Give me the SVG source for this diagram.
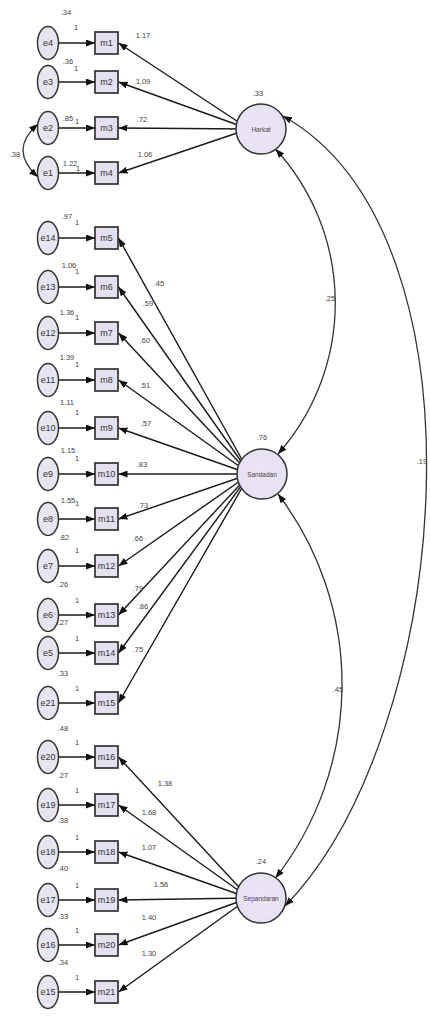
<svg xmlns="http://www.w3.org/2000/svg" width="430" height="1019" viewBox="0 0 430 1019">
<style>
.ln{stroke:#1a1a1a;stroke-width:1.4;fill:none;marker-end:url(#ah)}
.cv{stroke:#333;stroke-width:1.3;fill:none;marker-start:url(#ah);marker-end:url(#ah)}
.err{fill:#e8e5f3;stroke:#333;stroke-width:1.5}
.box{fill:#e4e0ef;stroke:#333;stroke-width:1.7}
.lat{fill:url(#lg);stroke:#333;stroke-width:1.5}
.nt{font-family:"Liberation Sans",Arial,sans-serif;font-size:9px;fill:#333;text-anchor:middle}
.lb{font-family:"Liberation Sans",Arial,sans-serif;font-size:7.5px;fill:#444;text-anchor:middle}
.lt{font-family:"Liberation Sans",Arial,sans-serif;font-size:6.5px;fill:#444;text-anchor:middle}
</style>
<defs>
<marker id="ah" viewBox="0 0 10 10" refX="10" refY="5" markerWidth="9" markerHeight="7" preserveAspectRatio="none" orient="auto-start-reverse" markerUnits="userSpaceOnUse"><path d="M0,0 L10,5 L0,10 z" fill="#111"/></marker>
<radialGradient id="lg"><stop offset="0" stop-color="#efe3f7"/><stop offset="1" stop-color="#e6e2f2"/></radialGradient>
</defs>
<g id="connectors">
<path class="ln" d="M58.5,43H95"/>
<path class="ln" d="M58.5,82H95"/>
<path class="ln" d="M58.5,128H95"/>
<path class="ln" d="M58.5,173H95"/>
<path class="ln" d="M58.5,238H95"/>
<path class="ln" d="M58.5,287H95"/>
<path class="ln" d="M58.5,333H95"/>
<path class="ln" d="M58.5,380H95"/>
<path class="ln" d="M58.5,428H95"/>
<path class="ln" d="M58.5,474H95"/>
<path class="ln" d="M58.5,519H95"/>
<path class="ln" d="M58.5,566H95"/>
<path class="ln" d="M58.5,615H95"/>
<path class="ln" d="M58.5,653H95"/>
<path class="ln" d="M58.5,703H95"/>
<path class="ln" d="M58.5,757H95"/>
<path class="ln" d="M58.5,805H95"/>
<path class="ln" d="M58.5,852H95"/>
<path class="ln" d="M58.5,900H95"/>
<path class="ln" d="M58.5,945H95"/>
<path class="ln" d="M58.5,992H95"/>
<path class="ln" d="M249,129L118.5,43"/>
<path class="ln" d="M249,129L118.5,82"/>
<path class="ln" d="M249,129L118.5,128"/>
<path class="ln" d="M249,129L118.5,173"/>
<path class="ln" d="M250,474L118.5,238"/>
<path class="ln" d="M250,474L118.5,287"/>
<path class="ln" d="M250,474L118.5,333"/>
<path class="ln" d="M250,474L118.5,380"/>
<path class="ln" d="M250,474L118.5,428"/>
<path class="ln" d="M250,474L118.5,474"/>
<path class="ln" d="M250,474L118.5,519"/>
<path class="ln" d="M250,474L118.5,566"/>
<path class="ln" d="M250,474L118.5,615"/>
<path class="ln" d="M250,474L118.5,653"/>
<path class="ln" d="M250,474L118.5,703"/>
<path class="ln" d="M249,898L118.5,757"/>
<path class="ln" d="M249,898L118.5,805"/>
<path class="ln" d="M249,898L118.5,852"/>
<path class="ln" d="M249,898L118.5,900"/>
<path class="ln" d="M249,898L118.5,945"/>
<path class="ln" d="M249,898L118.5,992"/>
<path class="cv" d="M38,124Q8,150 38,177"/>
<path class="cv" d="M275.5,149A228,228 0 0 1 278,454"/>
<path class="cv" d="M278,494A315,315 0 0 1 275.5,878"/>
<path class="cv" d="M283,116C495,235 452,735 285,906"/>
</g>
<g id="connector-labels">
<text class="lb" x="15" y="157">.38</text>
<text class="lb" x="330" y="301">.25</text>
<text class="lb" x="338" y="692">.45</text>
<text class="lb" x="422" y="464">.19</text>
<text class="lb" x="143" y="38">1.17</text>
<text class="lb" x="143" y="84">1.09</text>
<text class="lb" x="142" y="122">.72</text>
<text class="lb" x="145" y="157">1.06</text>
<text class="lb" x="159" y="286">.45</text>
<text class="lb" x="148" y="306">.59</text>
<text class="lb" x="145" y="343">.60</text>
<text class="lb" x="145" y="388">.51</text>
<text class="lb" x="146" y="426">.57</text>
<text class="lb" x="142" y="467">.83</text>
<text class="lb" x="143" y="508">.73</text>
<text class="lb" x="138" y="541">.66</text>
<text class="lb" x="138" y="591">.79</text>
<text class="lb" x="143" y="609">.86</text>
<text class="lb" x="138" y="652">.75</text>
<text class="lb" x="165" y="786">1.38</text>
<text class="lb" x="149" y="815">1.68</text>
<text class="lb" x="149" y="850">1.07</text>
<text class="lb" x="161" y="887">1.56</text>
<text class="lb" x="149" y="920">1.40</text>
<text class="lb" x="149" y="956">1.30</text>
</g>
<g id="e4"><ellipse class="err" cx="48" cy="43" rx="10.5" ry="16.5"/><text class="nt" x="48" y="46">e4</text><text class="lb" x="66" y="15">.34</text><text class="lb" x="76" y="30">1</text></g>
<g id="e3"><ellipse class="err" cx="48" cy="82" rx="10.5" ry="16.5"/><text class="nt" x="48" y="85">e3</text><text class="lb" x="68" y="64">.36</text><text class="lb" x="76" y="71">1</text></g>
<g id="e2"><ellipse class="err" cx="48" cy="128" rx="10.5" ry="16.5"/><text class="nt" x="48" y="131">e2</text><text class="lb" x="68" y="121">.85</text><text class="lb" x="77" y="124">1</text></g>
<g id="e1"><ellipse class="err" cx="48" cy="173" rx="10.5" ry="16.5"/><text class="nt" x="48" y="176">e1</text><text class="lb" x="70" y="166">1.22</text><text class="lb" x="78" y="171">1</text></g>
<g id="e14"><ellipse class="err" cx="48" cy="238" rx="10.5" ry="16.5"/><text class="nt" x="48" y="241">e14</text><text class="lb" x="67" y="219">.97</text><text class="lb" x="77" y="225">1</text></g>
<g id="e13"><ellipse class="err" cx="48" cy="287" rx="10.5" ry="16.5"/><text class="nt" x="48" y="290">e13</text><text class="lb" x="69" y="268">1.06</text><text class="lb" x="77" y="274">1</text></g>
<g id="e12"><ellipse class="err" cx="48" cy="333" rx="10.5" ry="16.5"/><text class="nt" x="48" y="336">e12</text><text class="lb" x="67" y="315">1.36</text><text class="lb" x="77" y="320">1</text></g>
<g id="e11"><ellipse class="err" cx="48" cy="380" rx="10.5" ry="16.5"/><text class="nt" x="48" y="383">e11</text><text class="lb" x="67" y="360">1.39</text><text class="lb" x="77" y="367">1</text></g>
<g id="e10"><ellipse class="err" cx="48" cy="428" rx="10.5" ry="16.5"/><text class="nt" x="48" y="431">e10</text><text class="lb" x="67" y="405">1.11</text><text class="lb" x="77" y="415">1</text></g>
<g id="e9"><ellipse class="err" cx="48" cy="474" rx="10.5" ry="16.5"/><text class="nt" x="48" y="477">e9</text><text class="lb" x="68" y="453">1.15</text><text class="lb" x="77" y="461">1</text></g>
<g id="e8"><ellipse class="err" cx="48" cy="519" rx="10.5" ry="16.5"/><text class="nt" x="48" y="522">e8</text><text class="lb" x="68" y="503">1.55</text><text class="lb" x="77" y="506">1</text></g>
<g id="e7"><ellipse class="err" cx="48" cy="566" rx="10.5" ry="16.5"/><text class="nt" x="48" y="569">e7</text><text class="lb" x="64" y="540">.82</text><text class="lb" x="77" y="553">1</text></g>
<g id="e6"><ellipse class="err" cx="48" cy="615" rx="10.5" ry="16.5"/><text class="nt" x="48" y="618">e6</text><text class="lb" x="63" y="587">.26</text><text class="lb" x="77" y="603">1</text></g>
<g id="e5"><ellipse class="err" cx="48" cy="653" rx="10.5" ry="16.5"/><text class="nt" x="48" y="656">e5</text><text class="lb" x="63" y="625">.27</text><text class="lb" x="77" y="641">1</text></g>
<g id="e21"><ellipse class="err" cx="48" cy="703" rx="10.5" ry="16.5"/><text class="nt" x="48" y="706">e21</text><text class="lb" x="63" y="676">.33</text><text class="lb" x="77" y="691">1</text></g>
<g id="e20"><ellipse class="err" cx="48" cy="757" rx="10.5" ry="16.5"/><text class="nt" x="48" y="760">e20</text><text class="lb" x="63" y="731">.48</text><text class="lb" x="77" y="745">1</text></g>
<g id="e19"><ellipse class="err" cx="48" cy="805" rx="10.5" ry="16.5"/><text class="nt" x="48" y="808">e19</text><text class="lb" x="63" y="778">.27</text><text class="lb" x="77" y="793">1</text></g>
<g id="e18"><ellipse class="err" cx="48" cy="852" rx="10.5" ry="16.5"/><text class="nt" x="48" y="855">e18</text><text class="lb" x="63" y="823">.38</text><text class="lb" x="77" y="840">1</text></g>
<g id="e17"><ellipse class="err" cx="48" cy="900" rx="10.5" ry="16.5"/><text class="nt" x="48" y="903">e17</text><text class="lb" x="63" y="871">.40</text><text class="lb" x="77" y="888">1</text></g>
<g id="e16"><ellipse class="err" cx="48" cy="945" rx="10.5" ry="16.5"/><text class="nt" x="48" y="948">e16</text><text class="lb" x="63" y="919">.33</text><text class="lb" x="77" y="933">1</text></g>
<g id="e15"><ellipse class="err" cx="48" cy="992" rx="10.5" ry="16.5"/><text class="nt" x="48" y="995">e15</text><text class="lb" x="63" y="965">.34</text><text class="lb" x="77" y="980">1</text></g>
<g id="m1"><rect class="box" x="95" y="32" width="23" height="22"/><text class="nt" x="106.5" y="46">m1</text></g>
<g id="m2"><rect class="box" x="95" y="71" width="23" height="22"/><text class="nt" x="106.5" y="85">m2</text></g>
<g id="m3"><rect class="box" x="95" y="117" width="23" height="22"/><text class="nt" x="106.5" y="131">m3</text></g>
<g id="m4"><rect class="box" x="95" y="162" width="23" height="22"/><text class="nt" x="106.5" y="176">m4</text></g>
<g id="m5"><rect class="box" x="95" y="227" width="23" height="22"/><text class="nt" x="106.5" y="241">m5</text></g>
<g id="m6"><rect class="box" x="95" y="276" width="23" height="22"/><text class="nt" x="106.5" y="290">m6</text></g>
<g id="m7"><rect class="box" x="95" y="322" width="23" height="22"/><text class="nt" x="106.5" y="336">m7</text></g>
<g id="m8"><rect class="box" x="95" y="369" width="23" height="22"/><text class="nt" x="106.5" y="383">m8</text></g>
<g id="m9"><rect class="box" x="95" y="417" width="23" height="22"/><text class="nt" x="106.5" y="431">m9</text></g>
<g id="m10"><rect class="box" x="95" y="463" width="23" height="22"/><text class="nt" x="106.5" y="477">m10</text></g>
<g id="m11"><rect class="box" x="95" y="508" width="23" height="22"/><text class="nt" x="106.5" y="522">m11</text></g>
<g id="m12"><rect class="box" x="95" y="555" width="23" height="22"/><text class="nt" x="106.5" y="569">m12</text></g>
<g id="m13"><rect class="box" x="95" y="604" width="23" height="22"/><text class="nt" x="106.5" y="618">m13</text></g>
<g id="m14"><rect class="box" x="95" y="642" width="23" height="22"/><text class="nt" x="106.5" y="656">m14</text></g>
<g id="m15"><rect class="box" x="95" y="692" width="23" height="22"/><text class="nt" x="106.5" y="706">m15</text></g>
<g id="m16"><rect class="box" x="95" y="746" width="23" height="22"/><text class="nt" x="106.5" y="760">m16</text></g>
<g id="m17"><rect class="box" x="95" y="794" width="23" height="22"/><text class="nt" x="106.5" y="808">m17</text></g>
<g id="m18"><rect class="box" x="95" y="841" width="23" height="22"/><text class="nt" x="106.5" y="855">m18</text></g>
<g id="m19"><rect class="box" x="95" y="889" width="23" height="22"/><text class="nt" x="106.5" y="903">m19</text></g>
<g id="m20"><rect class="box" x="95" y="934" width="23" height="22"/><text class="nt" x="106.5" y="948">m20</text></g>
<g id="m21"><rect class="box" x="95" y="981" width="23" height="22"/><text class="nt" x="106.5" y="995">m21</text></g>
<g id="Harkat"><circle class="lat" cx="261" cy="129" r="25"/><text class="lt" x="261" y="131.5">Harkat</text><text class="lb" x="258" y="96">.33</text></g>
<g id="Sandadan"><circle class="lat" cx="262" cy="474" r="25"/><text class="lt" x="262" y="476.5">Sandadan</text><text class="lb" x="262" y="440">.76</text></g>
<g id="Sepandaran"><circle class="lat" cx="261" cy="898" r="25"/><text class="lt" x="261" y="900.5">Sepandaran</text><text class="lb" x="261" y="864">.24</text></g>
</svg>
